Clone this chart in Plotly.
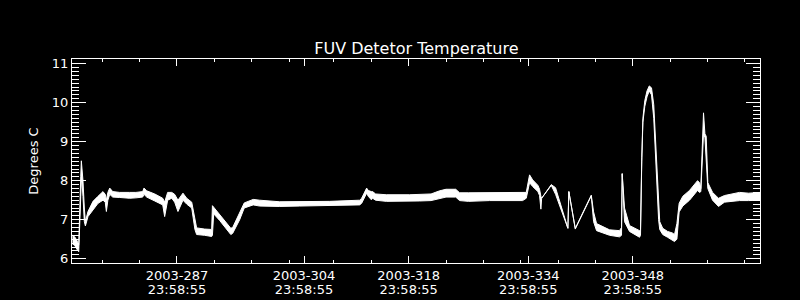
import plotly.graph_objects as go

# Day of year 2003 (fractional), lower / upper envelope of the temperature trace (deg C)
DAY = [274.01, 274.31, 274.58, 274.85, 275.12, 275.20, 275.29, 275.42, 275.60, 275.74,
       276.09, 276.76, 277.43, 278.10, 278.40, 278.55, 278.75, 279.00, 279.40, 280.33,
       281.67, 282.50, 283.41, 283.58, 283.95, 285.02, 286.09, 286.35, 286.75, 287.30,
       287.69, 288.13, 288.80, 289.30, 289.97, 290.40, 290.63, 291.70, 292.64, 292.74,
       292.91, 293.71, 294.78, 295.20, 295.45, 296.39, 297.00, 298.20, 299.06, 301.74,
       304.41, 308.43, 312.44, 312.71, 313.38, 313.60, 314.01, 314.18, 314.58, 316.01,
       319.13, 320.47, 322.00, 323.14, 324.00, 325.30, 325.82, 327.00, 329.83, 334.25,
       334.74, 335.18, 335.60, 336.30, 336.52, 336.70, 336.80, 338.09, 338.66, 340.31,
       340.44, 341.30, 343.44, 343.75, 344.15, 345.89, 347.22, 347.49, 347.58, 347.89,
       348.56, 349.90, 350.03, 350.20, 350.35, 350.60, 350.90, 351.20, 351.50, 351.80,
       352.00, 352.20, 352.45, 352.60, 353.00, 353.65, 354.30, 354.58, 354.90, 355.20,
       355.69, 356.59, 357.66, 357.93, 358.10, 358.30, 358.46, 358.65, 358.82, 359.04,
       359.67, 360.20, 360.47, 361.27, 362.50, 363.28, 364.50, 366.10]
T_LOW = [6.38, 6.34, 6.25, 6.18, 7.60, 8.00, 7.95, 7.60, 6.95, 6.84,
         7.08, 7.25, 7.42, 7.50, 7.45, 7.21, 7.50, 7.65, 7.58, 7.57,
         7.55, 7.56, 7.58, 7.65, 7.58, 7.48, 7.38, 7.08, 7.50, 7.55,
         7.45, 7.21, 7.50, 7.40, 7.30, 6.75, 6.62, 6.60, 6.57, 6.60,
         7.15, 6.98, 6.70, 6.62, 6.65, 7.00, 7.30, 7.38, 7.35, 7.34,
         7.35, 7.36, 7.38, 7.42, 7.68, 7.60, 7.51, 7.55, 7.50, 7.47,
         7.47, 7.48, 7.49, 7.55, 7.58, 7.58, 7.49, 7.47, 7.49, 7.49,
         7.55, 7.95, 7.85, 7.72, 7.62, 7.27, 7.55, 7.88, 7.65, 6.78,
         7.72, 6.76, 7.61, 6.95, 6.72, 6.60, 6.56, 6.60, 8.18, 6.95,
         6.70, 6.55, 6.60, 8.50, 9.50, 9.90, 10.15, 10.30, 10.20, 9.60,
         8.80, 7.90, 7.00, 6.75, 6.62, 6.55, 6.47, 6.44, 6.50, 7.20,
         7.35, 7.50, 7.75, 7.70, 7.72, 8.50, 9.20, 9.10, 8.50, 7.80,
         7.50, 7.38, 7.34, 7.45, 7.47, 7.49, 7.49, 7.50]
T_HIGH = [6.60, 6.56, 6.48, 6.35, 8.10, 8.51, 8.30, 8.00, 7.30, 6.95,
          7.21, 7.47, 7.60, 7.72, 7.65, 7.50, 7.70, 7.81, 7.72, 7.70,
          7.70, 7.70, 7.72, 7.81, 7.74, 7.66, 7.55, 7.45, 7.70, 7.70,
          7.65, 7.50, 7.68, 7.55, 7.45, 7.00, 6.79, 6.76, 6.75, 7.36,
          7.32, 7.15, 6.88, 6.78, 6.80, 7.21, 7.43, 7.52, 7.50, 7.46,
          7.46, 7.47, 7.50, 7.55, 7.81, 7.75, 7.72, 7.72, 7.66, 7.64,
          7.64, 7.65, 7.66, 7.74, 7.78, 7.78, 7.69, 7.69, 7.70, 7.70,
          7.70, 8.15, 8.02, 7.88, 7.78, 7.60, 7.55, 7.90, 7.82, 6.78,
          7.72, 6.78, 7.63, 7.20, 6.90, 6.74, 6.72, 6.80, 8.18, 7.30,
          6.85, 6.72, 6.75, 8.60, 9.60, 10.05, 10.30, 10.43, 10.38, 9.95,
          9.14, 8.30, 7.42, 6.95, 6.78, 6.70, 6.66, 6.62, 6.90, 7.42,
          7.60, 7.75, 8.00, 7.95, 7.80, 9.20, 9.74, 9.20, 9.14, 7.95,
          7.70, 7.60, 7.55, 7.62, 7.66, 7.70, 7.68, 7.70]

LABEL_DAYS = [287, 304, 318, 334, 348]
LABEL_TIME = "23:58:55"
MINOR_DAYS = [278, 283, 288, 293, 298, 303, 309, 314, 319, 324, 329, 334,
              339, 344, 349, 354, 359, 364]
Y_TICKS = [6, 7, 8, 9, 10, 11]
X_RANGE = [273.95, 366.02]
Y_RANGE = [5.89, 11.12]

h, m, s = (int(v) for v in LABEL_TIME.split(":"))
frac = (h * 3600 + m * 60 + s) / 86400.0
tickvals = [d + frac for d in LABEL_DAYS]
date_text = [f"2003-{d}" for d in LABEL_DAYS]
time_text = [LABEL_TIME for d in LABEL_DAYS]

fig = go.Figure()
fig.add_trace(go.Scatter(x=DAY, y=T_LOW, mode="lines",
                         line=dict(color="white", width=1), hoverinfo="skip"))
fig.add_trace(go.Scatter(x=DAY, y=T_HIGH, mode="lines", fill="tonexty",
                         fillcolor="white",
                         line=dict(color="white", width=1), hoverinfo="skip"))
# empty traces so the overlay axes (short day ticks, time label row) are drawn
fig.add_trace(go.Scatter(x=[None], y=[None], xaxis="x2", yaxis="y",
                         mode="lines", hoverinfo="skip"))
fig.add_trace(go.Scatter(x=[None], y=[None], xaxis="x3", yaxis="y",
                         mode="lines", hoverinfo="skip"))

tickfont = dict(family="DejaVu Sans", size=13, color="white")
fig.update_layout(
    width=800, height=300,
    paper_bgcolor="black", plot_bgcolor="black",
    margin=dict(l=72, r=40, t=59, b=37, autoexpand=False),
    showlegend=False,
    font=dict(family="DejaVu Sans", color="white", size=13),
    title=dict(text="FUV Detetor Temperature", x=0.5205, xanchor="center",
               y=1 - 53.5 / 300, yanchor="bottom", yref="container",
               font=dict(family="DejaVu Sans", size=16, color="white")),
    xaxis=dict(range=X_RANGE, tickmode="array", tickvals=tickvals,
               ticktext=date_text, ticks="inside", ticklen=7, tickwidth=1,
               tickcolor="white", showline=True, linecolor="white", linewidth=1,
               mirror="ticks", showgrid=False, zeroline=False, automargin=False,
               tickfont=tickfont),
    xaxis2=dict(range=X_RANGE, overlaying="x", anchor="y", side="bottom",
                tickmode="array", tickvals=MINOR_DAYS, showticklabels=False,
                ticks="inside", ticklen=3, tickwidth=1, tickcolor="white",
                showline=False, mirror="ticks", showgrid=False, zeroline=False,
                automargin=False),
    xaxis3=dict(range=X_RANGE, overlaying="x", anchor="y", side="bottom",
                tickmode="array", tickvals=tickvals, ticktext=time_text,
                ticks="", showline=False, showgrid=False, zeroline=False,
                automargin=False, ticklabelstandoff=17, tickfont=tickfont),
    yaxis=dict(range=Y_RANGE, tickmode="array", tickvals=Y_TICKS,
               ticks="inside", ticklen=14, tickwidth=1, tickcolor="white",
               showline=True, linecolor="white", linewidth=1, mirror="ticks",
               showgrid=False, zeroline=False, automargin=False,
               tickfont=tickfont,
               title=dict(text="Degrees C", standoff=10,
                          font=dict(family="DejaVu Sans", size=13, color="white")),
               minor=dict(dtick=0.1, tick0=6, ticks="inside", ticklen=7,
                          tickwidth=1, tickcolor="white", showgrid=False)),
)

fig.write_html("out.html")
